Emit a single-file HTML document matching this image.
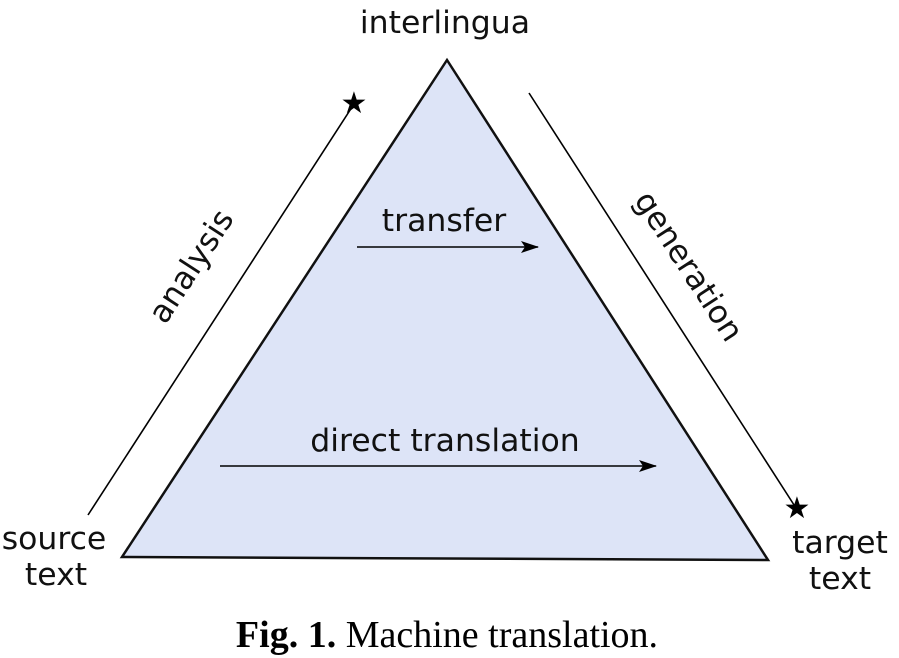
<!DOCTYPE html>
<html><head><style>body{margin:0;background:#fff}svg{display:block}</style></head><body>
<svg width="899" height="658" viewBox="0 0 899 658" xmlns="http://www.w3.org/2000/svg">
<defs>
<marker id="ah" markerWidth="18" markerHeight="12" refX="17" refY="6" orient="auto" markerUnits="userSpaceOnUse"><path d="M0,0 L18,6 L0,12 L4,6 Z" fill="#000"/></marker>
</defs>
<polygon points="447,60 122,557 768,560" fill="#dde4f7" stroke="#111" stroke-width="2.5" stroke-linejoin="miter"/>
<g font-family="DejaVu Sans, Liberation Sans, sans-serif" font-size="31.5" fill="#111">
<text x="445" y="33" text-anchor="middle">interlingua</text>
<text x="54" y="549" text-anchor="middle">source</text>
<text x="56" y="585" text-anchor="middle">text</text>
<text x="840" y="553" text-anchor="middle">target</text>
<text x="840" y="589" text-anchor="middle">text</text>
<text x="444" y="231" text-anchor="middle">transfer</text>
<text x="445" y="451" text-anchor="middle">direct translation</text>
<text x="0" y="0" text-anchor="middle" transform="translate(200,272) rotate(-57)">analysis</text>
<text x="0" y="0" text-anchor="middle" transform="translate(680,272) rotate(57)">generation</text>
</g>
<line x1="357" y1="247" x2="538" y2="247" stroke="#000" stroke-width="1.6" marker-end="url(#ah)"/>
<line x1="220" y1="466" x2="656" y2="466" stroke="#000" stroke-width="1.6" marker-end="url(#ah)"/>
<line x1="88" y1="515" x2="354" y2="104" stroke="#000" stroke-width="1.6"/>
<line x1="529" y1="93" x2="796" y2="508" stroke="#000" stroke-width="1.6"/>
<text x="354" y="113" font-size="30" text-anchor="middle" font-family="DejaVu Sans, sans-serif">★</text>
<text x="797" y="518" font-size="30" text-anchor="middle" font-family="DejaVu Sans, sans-serif">★</text>
<text x="447" y="647" text-anchor="middle" font-family="Liberation Serif, serif" font-size="38" fill="#000"><tspan font-weight="bold">Fig. 1.</tspan>  Machine translation.</text>
</svg>
</body></html>
